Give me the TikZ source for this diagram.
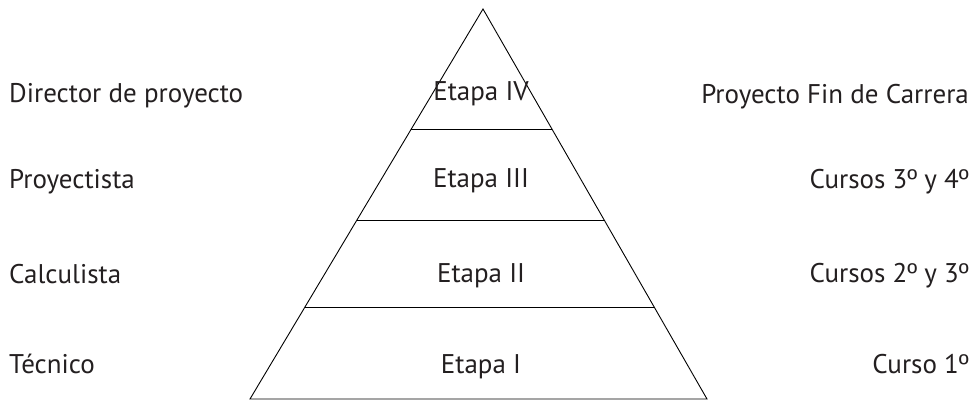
\documentclass[tikz,border=0pt]{standalone}
\usepackage{fontspec}
\setmainfont{PT Sans}
\newfontfamily\ordf{Liberation Sans}
\newcommand{\ordo}{{\ordf º}}
\usetikzlibrary{calc}
\definecolor{txt}{HTML}{231F20}
\tikzset{
  lbl/.style={inner sep=0pt, text=txt, font=\fontsize{27}{32}\selectfont},
  pyr/.style={draw=black, line width=0.9pt, line join=miter},
  tier/.style={draw=black, line width=0.9pt}
}
\begin{document}
\begin{tikzpicture}[x=1pt,y=-1pt]
\useasboundingbox (0,0) rectangle (977,401);
\coordinate (apex) at (483,9);
\coordinate (bl) at (250,399);
\coordinate (br) at (707,399);
\draw[pyr] (apex) -- (bl) -- (br) -- cycle;
\coordinate (l1) at ($(apex)!0.3077!(bl)$);
\coordinate (r1) at ($(apex)!0.3077!(br)$);
\coordinate (l2) at ($(apex)!0.541!(bl)$);
\coordinate (r2) at ($(apex)!0.541!(br)$);
\coordinate (l3) at ($(apex)!0.764!(bl)$);
\coordinate (r3) at ($(apex)!0.764!(br)$);
\draw[tier] (l1) -- (r1);
\draw[tier] (l2) -- (r2);
\draw[tier] (l3) -- (r3);
\node[lbl, anchor=base] (e4) at (481,101) {Etapa IV};
\node[lbl, anchor=base] (e3) at (481,187) {Etapa III};
\node[lbl, anchor=base] (e2) at (481,282) {Etapa II};
\node[lbl, anchor=base] (e1) at (481,373) {Etapa I};
\node[lbl, anchor=base west] (a4) at (9,103) {Director de proyecto};
\node[lbl, anchor=base west] (a3) at (9,188) {Proyectista};
\node[lbl, anchor=base west] (a2) at (9,283) {Calculista};
\node[lbl, anchor=base west] (a1) at (9,373) {Técnico};
\node[lbl, anchor=base east] (c4) at (969,104) {Proyecto Fin de Carrera};
\node[lbl, anchor=base east] (c3) at (969,188) {Cursos 3\ordo{} y 4\ordo};
\node[lbl, anchor=base east] (c2) at (969,282) {Cursos 2\ordo{} y 3\ordo};
\node[lbl, anchor=base east] (c1) at (969,373) {Curso 1\ordo};
\end{tikzpicture}
\end{document}
